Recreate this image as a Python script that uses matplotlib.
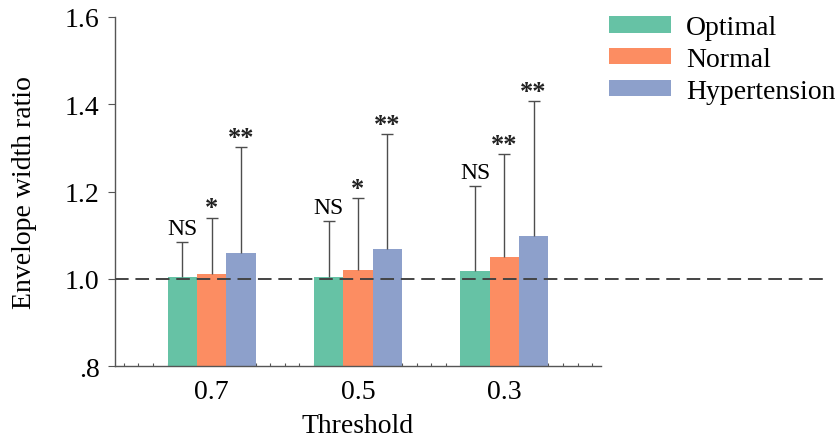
import matplotlib
matplotlib.use("Agg")
import matplotlib.pyplot as plt
import numpy as np

# Data
thresholds = ["0.7", "0.5", "0.3"]
groups = ["Optimal", "Normal", "Hypertension"]
means = {
    "Optimal": [1.003, 1.005, 1.017],
    "Normal": [1.012, 1.019, 1.049],
    "Hypertension": [1.058, 1.069, 1.097],
}
err_tops = {
    "Optimal": [1.084, 1.132, 1.212],
    "Normal": [1.140, 1.184, 1.285],
    "Hypertension": [1.301, 1.331, 1.407],
}
signif = {
    "Optimal": ["NS", "NS", "NS"],
    "Normal": ["*", "*", "**"],
    "Hypertension": ["**", "**", "**"],
}
colors = {"Optimal": "#66c2a5", "Normal": "#fc8d62", "Hypertension": "#8da0cb"}
ytick_vals = [0.8, 1.0, 1.2, 1.4, 1.6]
ytick_labels = [".8", "1.0", "1.2", "1.4", "1.6"]

plt.rcParams['font.family'] = ['Liberation Serif', 'DejaVu Serif']

fig = plt.figure(figsize=(8.35, 4.39), dpi=100)
ax = fig.add_axes([0.1377, 0.164, 0.5820, 0.795])

x = np.arange(len(thresholds))
width = 0.2
axis_grey = "#555555"

for i, g in enumerate(groups):
    pos = x + (i - 1) * width
    m = np.array(means[g])
    up = np.array(err_tops[g]) - m
    ax.bar(pos, m - 0.8, width, bottom=0.8, color=colors[g], label=g, zorder=2)
    eb = ax.errorbar(pos, m, yerr=[np.zeros_like(up), up], fmt="none",
                     ecolor="#4d4d4d", elinewidth=1.0, capsize=4.5, capthick=1.0, zorder=3)
    # only the upper cap is drawn in the original
    eb[1][0].set_visible(False)
    for p, top, s in zip(pos, err_tops[g], signif[g]):
        if s == "NS":
            ax.annotate(s, (p, top), xytext=(0, 2), textcoords="offset points",
                        ha="center", va="bottom", fontsize=17)
        else:
            ax.annotate(s, (p, top), xytext=(0, -1), textcoords="offset points",
                        ha="center", va="bottom", fontsize=19, fontweight="bold",
                        color="#222222")

# reference line at 1.0 running past the axes
ax.axhline(1.0, xmin=0, xmax=1.47, color="#444444", lw=1.4,
           dashes=(7, 3.5), clip_on=False, zorder=4)

ax.set_xlim(-0.66, 2.66)
ax.set_ylim(0.8, 1.6)
ax.set_xticks(x)
ax.set_xticklabels(thresholds, fontsize=20)
ax.set_xticks(np.arange(-0.6, 2.65, 0.1), minor=True)
ax.set_yticks(ytick_vals)
ax.set_yticklabels(ytick_labels, fontsize=20)
ax.tick_params(axis="x", which="both", direction="in", length=2.5, width=0.8,
               color=axis_grey, pad=9)
ax.tick_params(axis="y", length=5, width=0.8, color=axis_grey, pad=6)

for side in ["top", "right"]:
    ax.spines[side].set_visible(False)
for side in ["left", "bottom"]:
    ax.spines[side].set_color(axis_grey)
    ax.spines[side].set_linewidth(1.0)

ax.set_xlabel("Threshold", fontsize=20, labelpad=7)
ax.set_ylabel("Envelope width ratio", fontsize=20, labelpad=20)

fig.legend(loc="upper left", bbox_to_anchor=(609 / 835, 1 - 16 / 439), frameon=False,
           fontsize=20, handlelength=2.23, handleheight=0.55, handletextpad=0.55,
           labelspacing=0.25, borderpad=0, borderaxespad=0)

fig.savefig("out.png", dpi=100)
